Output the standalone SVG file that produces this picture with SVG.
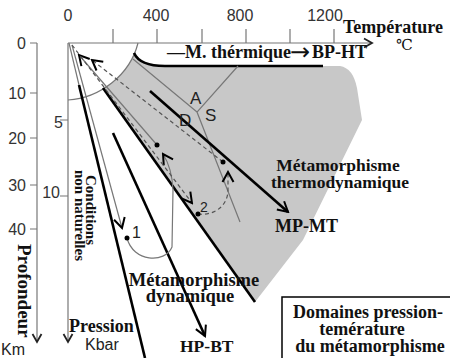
<svg xmlns="http://www.w3.org/2000/svg" width="450" height="358" viewBox="0 0 450 358">
<style>
.ax{stroke:#777;stroke-width:1.2;fill:none}
.num{font-family:"Liberation Sans",Arial,sans-serif;font-size:16px;fill:#333}
.lbl{font-family:"Liberation Serif","Times New Roman",serif;font-weight:bold;fill:#111}
.thick{stroke:#000;stroke-width:2.6;fill:none}
.thin{stroke:#777;stroke-width:1.2;fill:none}
.dash{stroke:#555;stroke-width:1.2;fill:none;stroke-dasharray:4 3}
.dot{fill:#000}
.sans{font-family:"Liberation Sans",Arial,sans-serif;fill:#222}
</style>
<defs>
<marker id="ah" markerUnits="userSpaceOnUse" markerWidth="14" markerHeight="14" viewBox="0 0 14 14" refX="12" refY="7" orient="auto"><path d="M2,1.5 L12,7 L2,12.5" fill="none" stroke="#000" stroke-width="2"/></marker>
<marker id="ahx" markerUnits="userSpaceOnUse" markerWidth="12" markerHeight="12" viewBox="0 0 12 12" refX="10" refY="6" orient="auto"><path d="M2,1.5 L10,6 L2,10.5" fill="none" stroke="#222" stroke-width="1.8"/></marker>
</defs>
<rect width="450" height="358" fill="#fff"/>

<g id="grey-domain">
<path d="M135,52 C139,62 148,66 165,66 L340,66 Q353,68 357,88 L362,120 L303,240 L255,302 L103,88 Q126,76 135,52 Z" fill="#c8c8c8"/>
</g>

<g id="axes">
<path class="ax" d="M68,43 L372,43" marker-end="url(#ahx)"/>
<path class="ax" d="M113,43V29M157,43V29M202,43V29M246,43V29M290,43V29M334,43V29"/>
<path class="ax" d="M68,43 L68,342" marker-end="url(#ahx)"/>
<path class="ax" d="M60,120H68M60,196H68"/>
<path class="ax" d="M37,43 L37,342" marker-end="url(#ahx)"/>
<path class="ax" d="M30,43H37M30,93H37M30,138H37M30,185H37M30,229H37"/>
<g class="num" text-anchor="middle">
<text x="68" y="21">0</text>
<text x="156" y="21">400</text>
<text x="240" y="21">800</text>
<text x="325" y="21">1200</text>
</g>
<g class="num" text-anchor="end">
<text x="26" y="49">0</text>
<text x="26" y="99">10</text>
<text x="26" y="144">20</text>
<text x="26" y="191">30</text>
<text x="26" y="235">40</text>
<text x="63" y="128">5</text>
<text x="60" y="198">10</text>
</g>
</g>

<g id="connectors">
<path class="thin" d="M138,43 C130,75 100,98 68,100"/>
<path class="thick" d="M134,53 C138,62 148,66 165,66 L323,66"/>
<path class="thin" d="M133,59 L197,112 M238,66 L197,112 L240,222"/>
<path class="thin" d="M69,43 L79,85"/>
<path class="thick" d="M79,85 L145,358"/>
<path class="thick" d="M113,133 L205,336" marker-end="url(#ah)"/>
<path class="thick" d="M103,88 L255,302"/>
<path class="thick" d="M150,91 L288,212" marker-end="url(#ah)"/>
<path class="thin" d="M72,45 L122,228" marker-end="url(#ah)"/>
<path class="thin" d="M127,238 C133,262 165,264 172,247 L173,190 Q172,168 163,154" marker-end="url(#ah)"/>
<path class="thin" d="M157,145 L79,55" marker-end="url(#ah)"/>
<path class="dash" d="M72,45 L192,203" marker-end="url(#ah)"/>
<path class="dash" d="M198,214 C215,216 228,205 228,190 L228,172" marker-end="url(#ah)"/>
<path class="dash" d="M223,162 L92,60" marker-end="url(#ah)"/>
<circle class="dot" cx="127" cy="238" r="2.5"/>
<circle class="dot" cx="198" cy="214" r="2.5"/>
<circle class="dot" cx="157" cy="145" r="2.5"/>
<circle class="dot" cx="223" cy="162" r="2.5"/>
</g>

<g id="labels">
<text class="lbl" x="343" y="33" font-size="18">Température</text>
<text x="396" y="50" font-size="15" font-family="DejaVu Serif, 'Noto Sans CJK SC', serif" fill="#111">℃</text>
<text class="lbl" x="167" y="58" font-size="18">—M. thérmique<tspan x="290" dy="2" font-family="DejaVu Sans, sans-serif" font-weight="normal" font-size="24">→</tspan><tspan x="312" dy="-2">BP-HT</tspan></text>
<text class="sans" x="190" y="104" font-size="17">A</text>
<text class="sans" x="179" y="126" font-size="17">D</text>
<text class="sans" x="205" y="121" font-size="17">S</text>
<text class="sans" x="132" y="238" font-size="16">1</text>
<text class="sans" x="200" y="212" font-size="14">2</text>
<text class="lbl" x="338" y="171" font-size="17.5" text-anchor="middle">Métamorphisme</text>
<text class="lbl" x="340" y="188" font-size="17.5" text-anchor="middle">thermodynamique</text>
<text class="lbl" x="275" y="232" font-size="18">MP-MT</text>
<text class="lbl" x="194" y="286" font-size="18.5" text-anchor="middle">Métamorphisme</text>
<text class="lbl" x="190" y="302" font-size="18.5" text-anchor="middle">dynamique</text>
<text class="lbl" x="180" y="352" font-size="17.5">HP-BT</text>
<text class="lbl" font-size="15" transform="translate(86,175) rotate(90)">Conditions</text>
<text class="lbl" font-size="15" transform="translate(75,170) rotate(90)">non naturelles</text>
<text class="lbl" font-size="19" transform="translate(18,244) rotate(90)">Profondeur</text>
<text class="sans" x="1" y="355" font-size="16">Km</text>
<text class="lbl" x="69" y="332" font-size="18">Pression</text>
<text class="sans" x="85" y="350" font-size="16">Kbar</text>
</g>

<g id="legend-box">
<rect x="282" y="297" width="175" height="70" fill="#fff" stroke="#000" stroke-width="1.5"/>
<g class="lbl" text-anchor="middle" font-size="18">
<text x="368" y="318">Domaines pression-</text>
<text x="362" y="335">temérature</text>
<text x="370" y="352">du métamorphisme</text>
</g>
</g>
</svg>
